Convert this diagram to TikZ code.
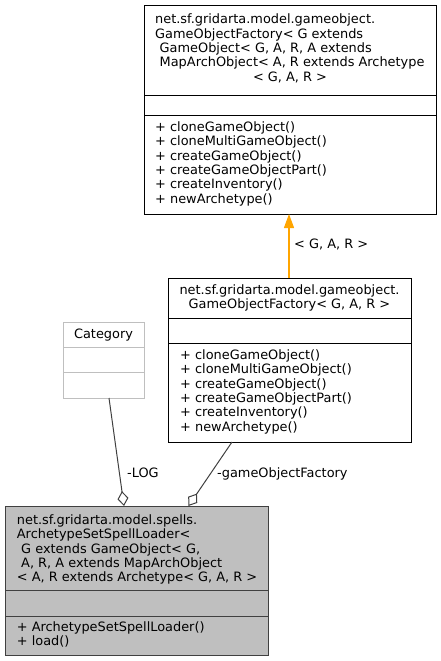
\documentclass[tikz,border=0pt]{standalone}
\usepackage{fontspec}
\setmainfont{DejaVu Sans}
\usetikzlibrary{arrows.meta}
\definecolor{edgegray}{HTML}{404040}
\definecolor{boxgray}{HTML}{BFBFBF}
\definecolor{catgray}{HTML}{BFBFBF}
\definecolor{inhorange}{HTML}{FFA500}
\tikzset{
  txt/.style={inner sep=0pt, font=\fontsize{12.9}{14.3}\selectfont, anchor=base west},
  ctxt/.style={inner sep=0pt, font=\fontsize{12.9}{14.3}\selectfont, anchor=base},
  umlbox/.style={draw=black, line width=1pt, inner sep=0pt, anchor=north west},
  agg/.style={draw=edgegray, line width=1pt, -{Diamond[open, length=15pt, width=11pt, line width=1pt]}},
  inh/.style={color=inhorange, line width=1.3pt, -{Triangle[length=14pt, width=10pt]}}
}
\begin{document}
\begin{tikzpicture}[x=1pt, y=-1pt]
\useasboundingbox (0,0) rectangle (441,661);

% ---- top box: GameObjectFactory<G extends ...>
\node[umlbox, minimum width=292pt, minimum height=209pt] (topb) at (144,5) {};
\draw[line width=1pt] (144,95) -- (436,95);
\draw[line width=1pt] (144,115.5) -- (436,115.5);
\node[txt] (tt1) at (155,24) {net.sf.gridarta.model.gameobject.};
\node[txt] (tt2) at (155,38.3) {GameObjectFactory< G extends};
\node[txt] (tt3) at (159.5,52.6) {GameObject< G, A, R, A extends};
\node[txt] (tt4) at (159.5,66.9) {MapArchObject< A, R extends Archetype};
\node[ctxt] (tt5) at (290,81.2) {< G, A, R >};
\node[txt] (tm1) at (155,131.5) {+ cloneGameObject()};
\node[txt] (tm2) at (155,145.8) {+ cloneMultiGameObject()};
\node[txt] (tm3) at (155,160.1) {+ createGameObject()};
\node[txt] (tm4) at (155,174.4) {+ createGameObjectPart()};
\node[txt] (tm5) at (155,188.7) {+ createInventory()};
\node[txt] (tm6) at (155,203) {+ newArchetype()};

% ---- middle box: GameObjectFactory<G, A, R>
\node[umlbox, minimum width=243pt, minimum height=164pt] (midb) at (168,278) {};
\draw[line width=1pt] (168,318) -- (411,318);
\draw[line width=1pt] (168,343.5) -- (411,343.5);
\node[ctxt] (mt1) at (289.5,294.5) {net.sf.gridarta.model.gameobject.};
\node[ctxt] (mt2) at (289.5,308.8) {GameObjectFactory< G, A, R >};
\node[txt] (mm1) at (180,359.5) {+ cloneGameObject()};
\node[txt] (mm2) at (180,373.8) {+ cloneMultiGameObject()};
\node[txt] (mm3) at (180,388.1) {+ createGameObject()};
\node[txt] (mm4) at (180,402.4) {+ createGameObjectPart()};
\node[txt] (mm5) at (180,416.7) {+ createInventory()};
\node[txt] (mm6) at (180,431) {+ newArchetype()};

% ---- Category box
\node[umlbox, draw=catgray, minimum width=81pt, minimum height=76pt] (catb) at (63,322) {};
\draw[catgray, line width=1pt] (63,347) -- (144,347);
\draw[catgray, line width=1pt] (63,372.5) -- (144,372.5);
\node[ctxt] (ct1) at (103.5,338.5) {Category};

% ---- bottom box: ArchetypeSetSpellLoader
\node[umlbox, draw=edgegray, fill=boxgray, minimum width=263pt, minimum height=149pt] (botb) at (5,506) {};
\draw[edgegray, line width=1pt] (5,590) -- (268,590);
\draw[edgegray, line width=1pt] (5,616) -- (268,616);
\node[txt] (bt1) at (16.7,524.5) {net.sf.gridarta.model.spells.};
\node[txt] (bt2) at (16.7,538.8) {ArchetypeSetSpellLoader<};
\node[txt] (bt3) at (21,553.1) {G extends GameObject< G,};
\node[txt] (bt4) at (21,567.4) {A, R, A extends MapArchObject};
\node[txt] (bt5) at (16.7,581.7) {< A, R extends Archetype< G, A, R >};
\node[txt] (bm1) at (16.7,631.5) {+ ArchetypeSetSpellLoader()};
\node[txt] (bm2) at (16.7,645.8) {+ load()};

% ---- connectors
\coordinate (inhfrom) at (289,278);
\coordinate (inhto) at (289,214);
\draw[inh] (inhfrom) -- (inhto);
\node[txt] (inhlbl) at (294,248.5) {< G, A, R >};

\coordinate (logfrom) at (109,398);
\coordinate (logto) at (124,506);
\draw[agg] (logfrom) -- (logto);
\node[txt] (loglbl) at (127,477.5) {-LOG};

\coordinate (gofrom) at (232,442);
\coordinate (goto) at (188.5,506);
\draw[agg] (gofrom) -- (goto);
\node[txt] (golbl) at (217,477.5) {-gameObjectFactory};
\end{tikzpicture}
\end{document}
